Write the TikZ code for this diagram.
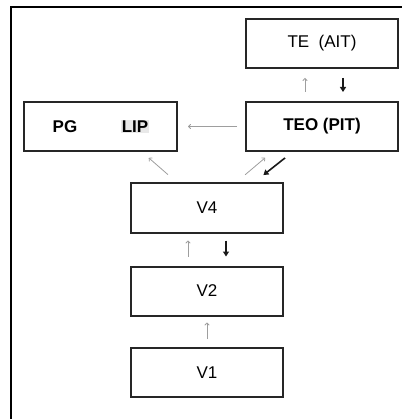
\documentclass[tikz,border=0pt]{standalone}
\usepackage{fontspec}
\setmainfont{Liberation Sans}
\usetikzlibrary{arrows.meta,calc}
\begin{document}
\begin{tikzpicture}[x=1pt,y=-1pt,
  area/.style={draw=black!85,line width=2pt,minimum width=152pt,minimum height=49pt,inner sep=0pt,
    font=\fontsize{17}{20}\selectfont},
  lt/.style={draw=black!38,line width=0.8pt,-{To[length=3pt,width=5pt]}},
  dk/.style={draw=black!90,line width=1.6pt,-{Triangle[length=5pt,width=6pt]}},
  frame/.style={draw=black,line width=2.5pt}]
\useasboundingbox (0,0) rectangle (401,419);
\draw[frame] (11,420) -- (11,7) -- (402,7);
\node[area] (te) at (322,43.5) {TE\ \ (AIT)};
\node[area] (teo) at (322,126.5) {\textbf{TEO (PIT)}};
\node[area,minimum width=153pt] (pg) at (100.5,126.5) {};
\node[font=\fontsize{17}{20}\selectfont\bfseries] (pgt) at (65,126.5) {PG};
\node[fill=black!9,inner sep=1pt,font=\fontsize{17}{20}\selectfont\bfseries] (lip) at (135,126.5) {LIP};
\node[area] (v4) at (207,208) {V4};
\node[area] (v2) at (207,291) {V2};
\node[area] (v1) at (207,372.5) {V1};
% TE <-> TEO
\draw[lt,shorten <=9pt,shorten >=9pt] ([xshift=-17pt]teo.north) -- ([xshift=-17pt]te.south);
\draw[dk,shorten <=9pt,shorten >=9pt] ([xshift=21pt]te.south) -- ([xshift=21pt]teo.north);
% TEO -> PG
\draw[lt,shorten <=8pt,shorten >=10pt] (teo.west) -- (pg.east);
% V4 -> PG
\draw[lt,shorten <=12pt,shorten >=9pt] ([xshift=47pt]v4.north west) -- ([xshift=41.5pt]pg.south);
% V4 -> TEO
\draw[lt,shorten <=12pt,shorten >=9pt] ([xshift=-48pt]v4.north east) -- ([xshift=27pt]teo.south west);
% TEO -> V4
\draw[dk,shorten <=9.5pt,shorten >=12pt] ([xshift=47.5pt]teo.south west) -- ([xshift=-30pt]v4.north east);
% V4 <-> V2
\draw[lt,shorten <=9pt,shorten >=7pt] ([xshift=-19pt]v2.north) -- ([xshift=-19pt]v4.south);
\draw[dk,shorten <=7pt,shorten >=9pt] ([xshift=19pt]v4.south) -- ([xshift=19pt]v2.north);
% V1 -> V2
\draw[lt,shorten <=8pt,shorten >=6pt] (v1.north) -- (v2.south);
\end{tikzpicture}
\end{document}
